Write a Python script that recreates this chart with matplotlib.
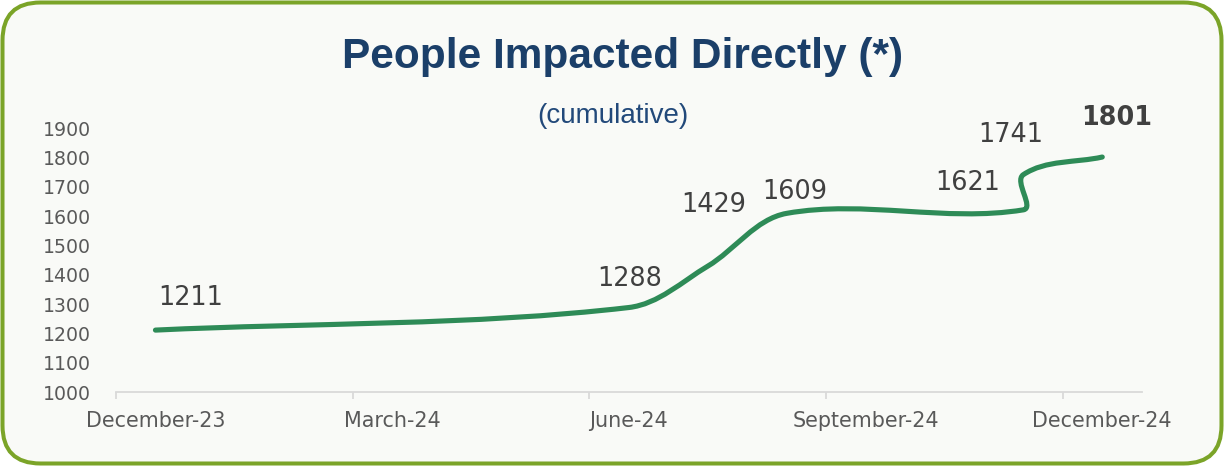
import matplotlib
matplotlib.use("Agg")
import matplotlib.pyplot as plt
from matplotlib.path import Path
from matplotlib.patches import PathPatch, FancyBboxPatch
from matplotlib.transforms import IdentityTransform
import numpy as np

# ---- data ----
month_index = [0, 6, 7, 8, 11, 11, 12]          # months since December-23
people = [1211, 1288, 1429, 1609, 1621, 1741, 1801]
tick_months = [0, 3, 6, 9, 12]
tick_labels = ["December-23", "March-24", "June-24", "September-24", "December-24"]
yticks = [1000, 1100, 1200, 1300, 1400, 1500, 1600, 1700, 1800, 1900]
label_offsets = [(35, 32), (1, 29), (6, 61), (8, 21), (-56, 27), (-13, 40), (14, 39)]

TITLE_C = "#1B3F69"
SUB_C = "#22497A"
LINE_C = "#2E8B57"

fig = plt.figure(figsize=(12.24, 4.66), dpi=100)
fig.patch.set_facecolor("white")

frame = FancyBboxPatch((2.5, 2.5), 1219, 461, boxstyle="round,pad=0,rounding_size=38",
                       transform=IdentityTransform(), facecolor="#F9FAF7",
                       edgecolor="#7BA428", linewidth=2.9, zorder=-10)
fig.patches.append(frame)

ax = fig.add_axes([116 / 1224, 74 / 466, 1025.7 / 1224, 264 / 466])
ax.set_zorder(5)
ax.set_facecolor("none")
ax.patch.set_alpha(0)
ax.set_xlim(-0.5, 12.5)
ax.set_ylim(1000, 1900)

# Excel-like smoothed line: tangent-direction Bezier computed in screen space
D = ax.transData.transform(np.column_stack([month_index, people]).astype(float))
n = len(D)
verts = [D[0]]
codes = [Path.MOVETO]
def unit(v):
    L = np.hypot(*v)
    return v / L if L > 0 else v
for i in range(n - 1):
    p0 = D[i - 1] if i > 0 else D[i]
    p1 = D[i]
    p2 = D[i + 1]
    p3 = D[i + 2] if i + 2 < n else D[i + 1]
    seg = np.hypot(*(p2 - p1))
    c1 = p1 + unit(p2 - p0) * seg / 3.0
    c2 = p2 - unit(p3 - p1) * seg / 3.0
    verts += [c1, c2, p2]
    codes += [Path.CURVE4] * 3
verts_data = ax.transData.inverted().transform(np.array(verts))
path = Path(verts_data, codes)
ax.add_patch(PathPatch(path, facecolor="none", edgecolor=LINE_C, linewidth=3.7,
                       capstyle="round", joinstyle="round", zorder=3))

for i, (x, y) in enumerate(zip(month_index, people)):
    ax.annotate(f"{y}", (x, y), xytext=label_offsets[i], textcoords="offset pixels",
                ha="center", va="center", fontsize=18.4, color="#404040",
                fontweight="bold" if i == n - 1 else "normal", family="DejaVu Sans")

for s in ["top", "right", "left"]:
    ax.spines[s].set_visible(False)
ax.spines["bottom"].set_color("#D9D9D9")
ax.spines["bottom"].set_linewidth(1.3)

ax.set_yticks(yticks)
ax.set_yticklabels([str(v) for v in yticks])
ax.tick_params(axis="y", length=0, pad=18, labelsize=13.6, labelcolor="#595959")

ax.set_xticks(tick_months)
ax.set_xticklabels(tick_labels)
ax.set_xticks([m - 0.5 for m in tick_months], minor=True)
ax.tick_params(axis="x", which="major", length=0, pad=14, labelsize=14.9, labelcolor="#595959")
ax.tick_params(axis="x", which="minor", length=5, width=1.3, color="#D9D9D9")

fig.text(623 / 1224, 1 - 57 / 466, "People Impacted Directly (*)", ha="center", va="center",
         fontsize=30.5, fontweight="bold", color=TITLE_C, family="Liberation Sans")
fig.text(613 / 1224, 1 - 116 / 466, "(cumulative)", ha="center", va="center",
         fontsize=20, color=SUB_C, family="Liberation Sans")

fig.savefig("out.png", dpi=100, facecolor=fig.get_facecolor())
